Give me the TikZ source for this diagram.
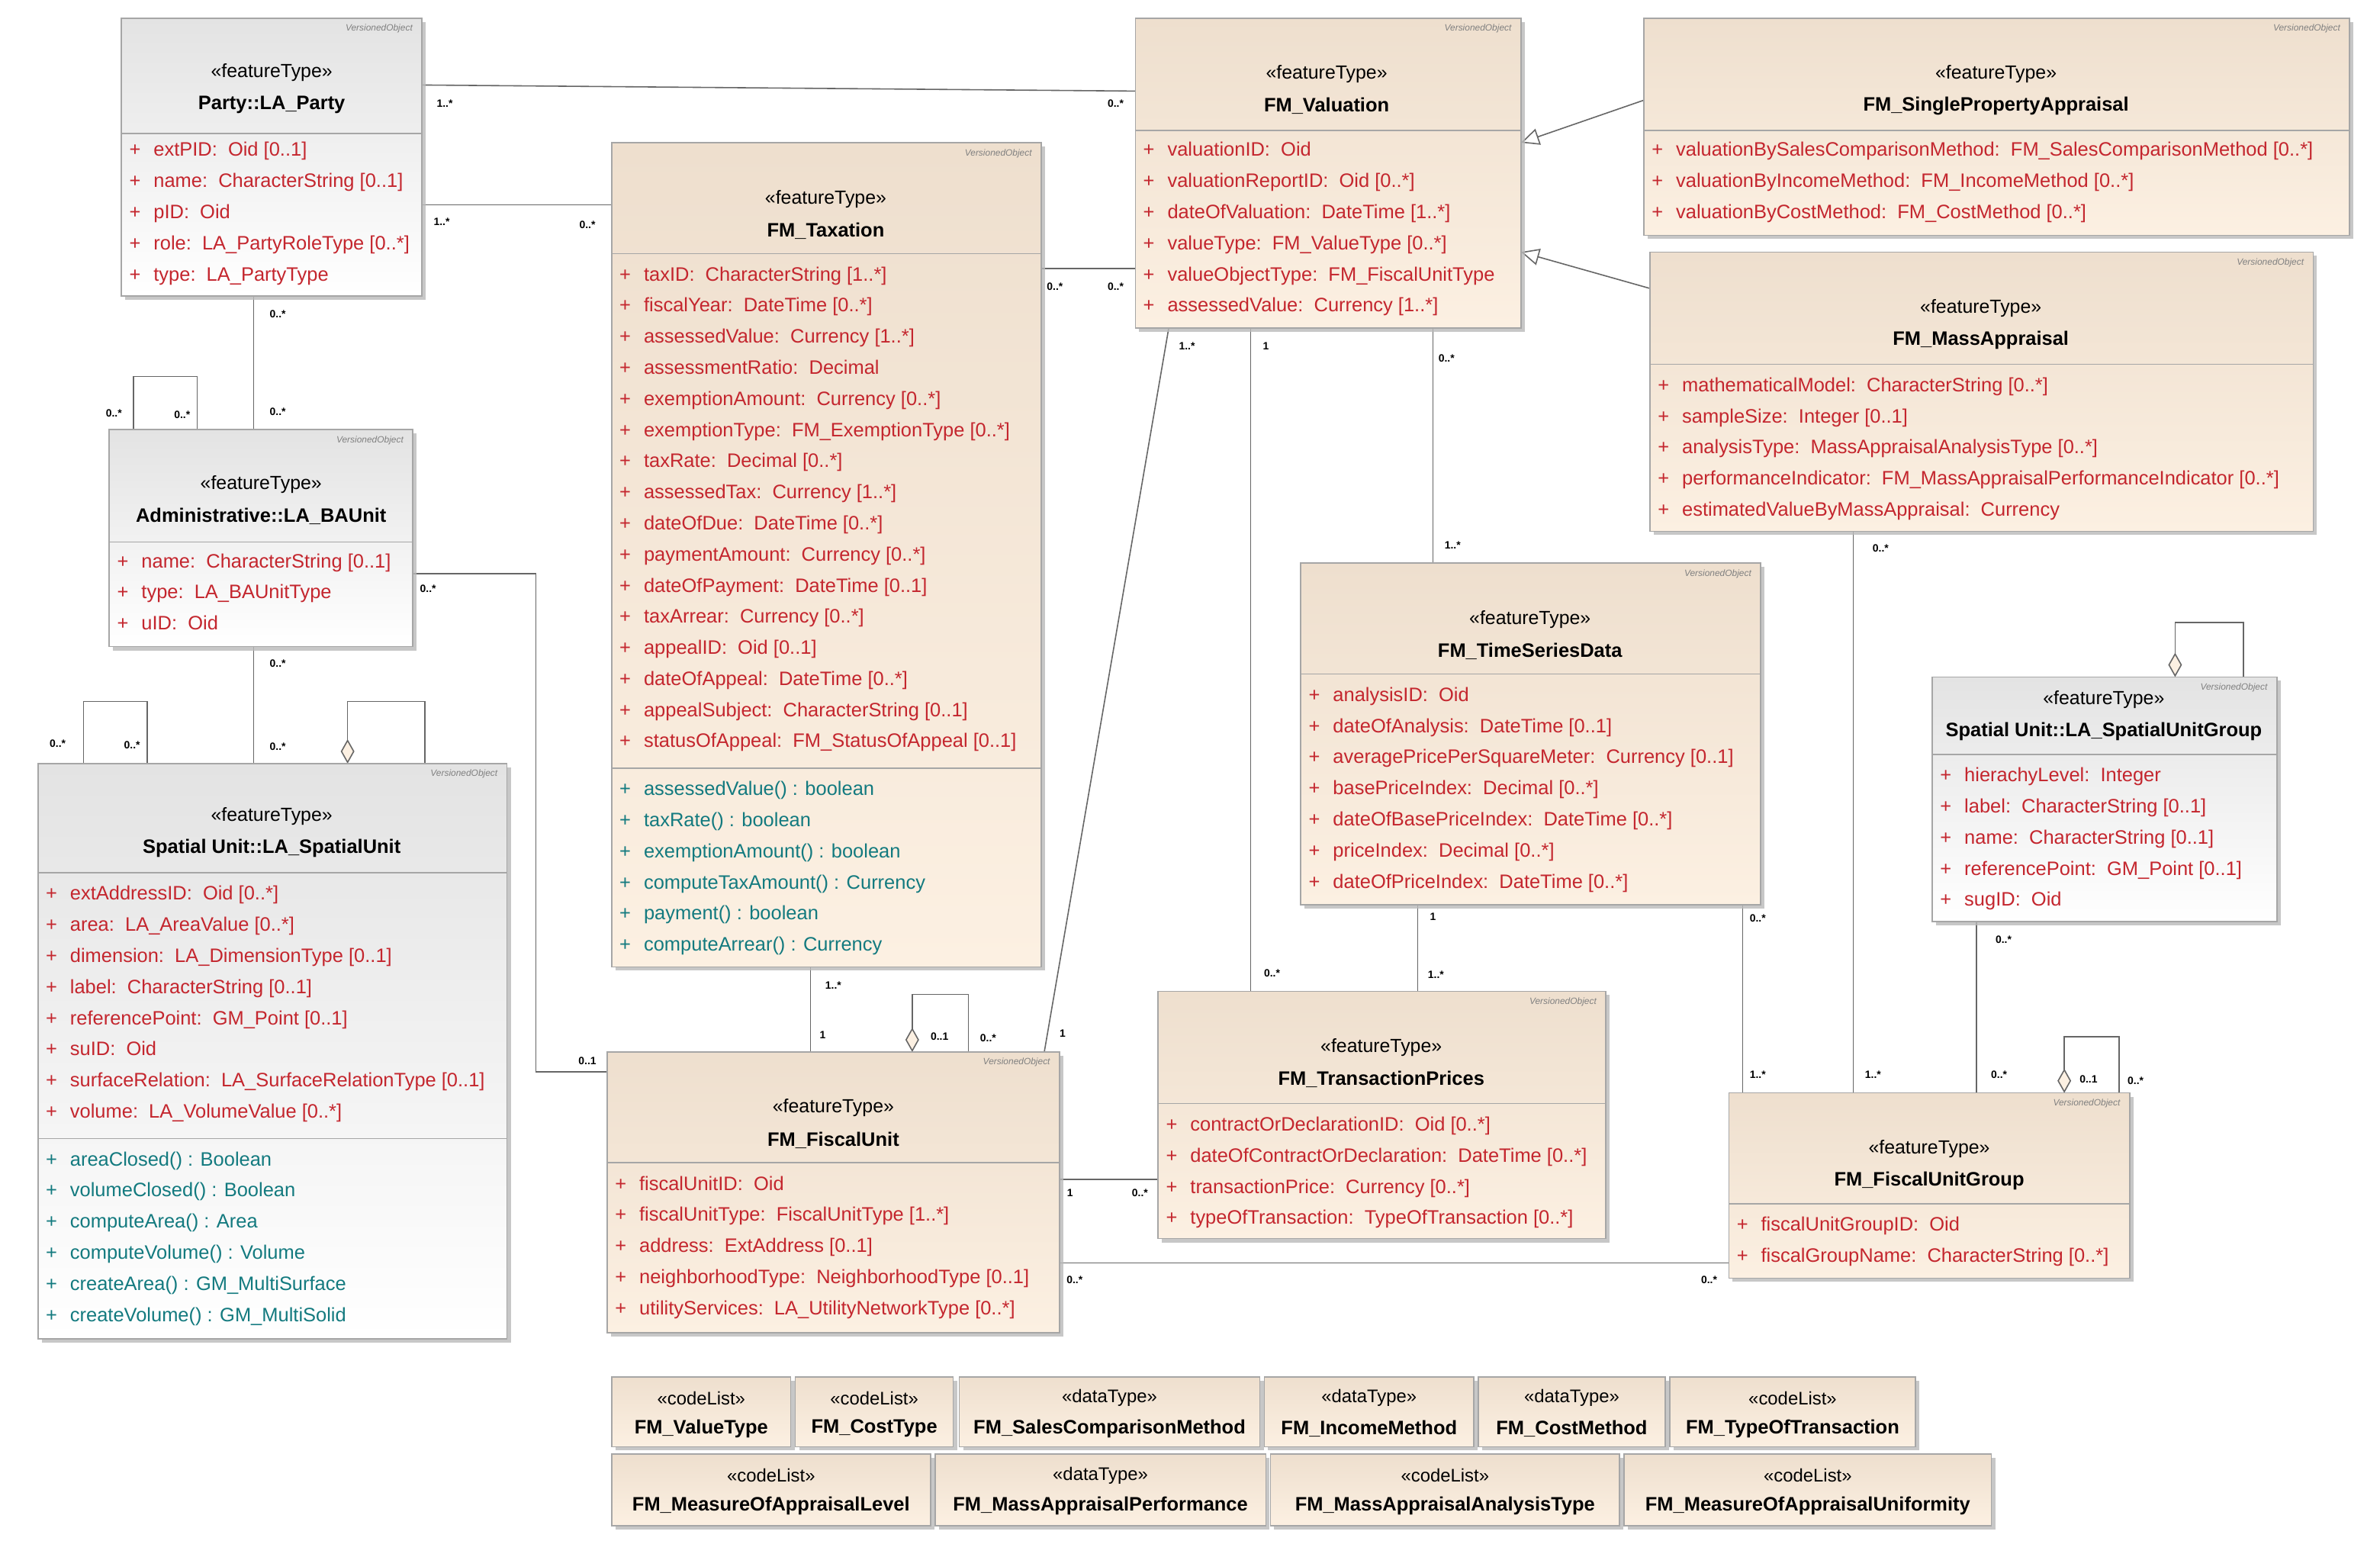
\documentclass[tikz,border=0pt]{standalone}
\usepackage{fontspec}
\setmainfont{Liberation Sans}
\usetikzlibrary{shadows,arrows.meta}
\definecolor{attr}{HTML}{C4262E}
\definecolor{opc}{HTML}{137A7F}
\definecolor{beigeT}{HTML}{EEDFCE}
\definecolor{beigeB}{HTML}{FCF0E2}
\tikzset{
  box/.style={draw=gray!70,line width=0.8pt,inner sep=0pt,drop shadow={shadow xshift=2.5pt,shadow yshift=-2.5pt,fill=gray!55,opacity=0.8}},
  fm/.style={box,top color=beigeT,bottom color=beigeB},
  la/.style={box,top color=gray!22,bottom color=white},
  ln/.style={draw=gray!80!black,line width=0.8pt},
  txt/.style={anchor=base west,inner sep=0pt,font=\fontsize{12.8}{14}\selectfont},
  mult/.style={anchor=center,inner sep=0pt,font=\fontsize{7}{8}\selectfont\bfseries},
  gen/.style={ln,-{Triangle[open,length=12pt,width=11pt,fill=white]}},
  agg/.style={ln,{Diamond[open,length=16pt,width=9pt,fill=beigeB]}-},
}
\newcommand\umlbox[8]{% name x1 y1 x2 y2 hdr style title
  \node[#7,minimum width={(#4-#2)*1pt},minimum height={(#5-#3)*1pt}] (#1) at ({(#2+#4)/2},{(#3+#5)/2}) {};
  \draw[draw=gray!70,line width=0.8pt] (#2,#6) -- (#4,#6);
  \node[anchor=north east,inner sep=0pt,font=\fontsize{6}{7}\itshape,text=gray] at ({#4-6},{#3+4}) {VersionedObject};
  #8}
\newcommand\ttl[3]{% xc, y of stereotype, name
  \node[inner sep=0pt,font=\fontsize{12.5}{14}\selectfont] at (#1,#2) {«featureType»};
  \node[inner sep=0pt,font=\fontsize{12.8}{14}\selectfont\bfseries] at (#1,{#2+21}) {#3};}
\newcommand\attrs[4]{% x, first baseline, color, list
  \foreach \t [count=\i] in {#4} \node[txt,text=#3] at (#1,{#2+(\i-1)*20.5}) {\makebox[16pt][l]{+}\t};}
\newcommand\mlab[3]{\node[mult] at (#1,#2) {#3};}
\newcommand\tb[7]{\node[fm,minimum width={(#3-#2)*1pt},minimum height={(#5-#4)*1pt}] (#1) at ({(#2+#3)/2},{(#4+#5)/2}) {};
 \node[inner sep=0pt,font=\fontsize{12}{13}\selectfont] at ({(#2+#3)/2},{#4+14}) {«#6»};
 \node[inner sep=0pt,font=\fontsize{12.8}{14}\selectfont\bfseries] at ({(#2+#3)/2},{#4+34}) {#7};}
\begin{document}
\begin{tikzpicture}[x=1pt,y=-1pt]
\useasboundingbox[fill=white] (0,0) rectangle (1568,1015);

% ---- connectors (behind)
\draw[ln] (278,56) -- (748,60); \mlab{293}{68}{1..*}\mlab{735}{68}{0..*}
\draw[ln] (278,135) -- (403,135); \mlab{291}{146}{1..*}\mlab{387}{148}{0..*}
\draw[ln] (167,195) -- (167,283); \mlab{183}{207}{0..*}\mlab{183}{271}{0..*}
\draw[ln] (88,283) |- (130,248) -- (130,283); \mlab{75}{272}{0..*}\mlab{120}{273}{0..*}
\draw[ln] (167,426) -- (167,503); \mlab{183}{437}{0..*}\mlab{183}{492}{0..*}
\draw[ln] (55,503) |- (97,462) -- (97,503); \mlab{38}{490}{0..*}\mlab{87}{491}{0..*}
\draw[agg] (229,503) |- (280,462) -- (280,503);
\draw[ln] (272,378) -| (353,706) -- (400,706); \mlab{282}{388}{0..*}\mlab{387}{699}{0..1}
\draw[ln] (686,177) -- (748,177); \mlab{695}{189}{0..*}\mlab{735}{189}{0..*}
\draw[ln] (534,637) -- (534,693); \mlab{549}{649}{1..*}\mlab{542}{682}{1}
\draw[agg] (601,693) |- (638,655) -- (638,693); \mlab{619}{683}{0..1}\mlab{651}{684}{0..*}
\draw[ln] (688,693) -- (770,216); \mlab{700}{681}{1}\mlab{782}{228}{1..*}
\draw[ln] (824,216) -- (824,653); \mlab{834}{228}{1}\mlab{838}{641}{0..*}
\draw[ln] (944,216) -- (944,371); \mlab{953}{236}{0..*}\mlab{957}{359}{1..*}
\draw[ln] (934,596) -- (934,653); \mlab{944}{604}{1}\mlab{946}{642}{1..*}
\draw[gen] (1083,66) -- (1002,94);
\draw[gen] (1087,190) -- (1002,166);
\draw[ln] (1221,350) -- (1221,720); \mlab{1239}{361}{0..*}\mlab{1234}{708}{1..*}
\draw[ln] (1148,596) -- (1148,720); \mlab{1158}{605}{0..*}\mlab{1158}{708}{1..*}
\draw[agg] (1433,446) |- (1478,410) -- (1478,446);
\draw[ln] (1302,607) -- (1302,720); \mlab{1320}{619}{0..*}\mlab{1317}{708}{0..*}
\draw[agg] (1360,720) |- (1396,683) -- (1396,720); \mlab{1376}{711}{0..1}\mlab{1407}{712}{0..*}
\draw[ln] (698,777) -- (763,777); \mlab{705}{786}{1}\mlab{751}{786}{0..*}
\draw[ln] (698,832) -- (1139,832); \mlab{708}{843}{0..*}\mlab{1126}{843}{0..*}

% ---- boxes
\umlbox{party}{80}{12}{278}{195}{88}{la}{\ttl{179}{48}{Party::LA\_Party}
 \attrs{85}{103}{attr}{{extPID:\ \ Oid [0..1]},{name:\ \ CharacterString [0..1]},{pID:\ \ Oid},{role:\ \ LA\_PartyRoleType [0..*]},{type:\ \ LA\_PartyType}}}
\umlbox{ba}{72}{283}{272}{426}{357}{la}{\ttl{172}{319}{Administrative::LA\_BAUnit}
 \attrs{77}{374}{attr}{{name:\ \ CharacterString [0..1]},{type:\ \ LA\_BAUnitType},{uID:\ \ Oid}}}
\umlbox{su}{25}{503}{334}{882}{575}{la}{\ttl{179}{538}{Spatial Unit::LA\_SpatialUnit}
 \attrs{30}{593}{attr}{{extAddressID:\ \ Oid [0..*]},{area:\ \ LA\_AreaValue [0..*]},{dimension:\ \ LA\_DimensionType [0..1]},{label:\ \ CharacterString [0..1]},{referencePoint:\ \ GM\_Point [0..1]},{suID:\ \ Oid},{surfaceRelation:\ \ LA\_SurfaceRelationType [0..1]},{volume:\ \ LA\_VolumeValue [0..*]}}
 \draw[draw=gray!70,line width=0.8pt] (25,750) -- (334,750);
 \attrs{30}{768}{opc}{{areaClosed() : Boolean},{volumeClosed() : Boolean},{computeArea() : Area},{computeVolume() : Volume},{createArea() : GM\_MultiSurface},{createVolume() : GM\_MultiSolid}}}
\umlbox{tax}{403}{94}{686}{637}{167}{fm}{\ttl{544}{131}{FM\_Taxation}
 \attrs{408}{185}{attr}{{taxID:\ \ CharacterString [1..*]},{fiscalYear:\ \ DateTime [0..*]},{assessedValue:\ \ Currency [1..*]},{assessmentRatio:\ \ Decimal},{exemptionAmount:\ \ Currency [0..*]},{exemptionType:\ \ FM\_ExemptionType [0..*]},{taxRate:\ \ Decimal [0..*]},{assessedTax:\ \ Currency [1..*]},{dateOfDue:\ \ DateTime [0..*]},{paymentAmount:\ \ Currency [0..*]},{dateOfPayment:\ \ DateTime [0..1]},{taxArrear:\ \ Currency [0..*]},{appealID:\ \ Oid [0..1]},{dateOfAppeal:\ \ DateTime [0..*]},{appealSubject:\ \ CharacterString [0..1]},{statusOfAppeal:\ \ FM\_StatusOfAppeal [0..1]}}
 \draw[draw=gray!70,line width=0.8pt] (403,506) -- (686,506);
 \attrs{408}{524}{opc}{{assessedValue() : boolean},{taxRate() : boolean},{exemptionAmount() : boolean},{computeTaxAmount() : Currency},{payment() : boolean},{computeArrear() : Currency}}}
\umlbox{val}{748}{12}{1002}{216}{86}{fm}{\ttl{874}{49}{FM\_Valuation}
 \attrs{753}{103}{attr}{{valuationID:\ \ Oid},{valuationReportID:\ \ Oid [0..*]},{dateOfValuation:\ \ DateTime [1..*]},{valueType:\ \ FM\_ValueType [0..*]},{valueObjectType:\ \ FM\_FiscalUnitType},{assessedValue:\ \ Currency [1..*]}}}
\umlbox{spa}{1083}{12}{1548}{155}{86}{fm}{\ttl{1315}{49}{FM\_SinglePropertyAppraisal}
 \attrs{1088}{103}{attr}{{valuationBySalesComparisonMethod:\ \ FM\_SalesComparisonMethod [0..*]},{valuationByIncomeMethod:\ \ FM\_IncomeMethod [0..*]},{valuationByCostMethod:\ \ FM\_CostMethod [0..*]}}}
\umlbox{mass}{1087}{166}{1524}{350}{240}{fm}{\ttl{1305}{203}{FM\_MassAppraisal}
 \attrs{1092}{258}{attr}{{mathematicalModel:\ \ CharacterString [0..*]},{sampleSize:\ \ Integer [0..1]},{analysisType:\ \ MassAppraisalAnalysisType [0..*]},{performanceIndicator:\ \ FM\_MassAppraisalPerformanceIndicator [0..*]},{estimatedValueByMassAppraisal:\ \ Currency}}}
\umlbox{ts}{857}{371}{1160}{596}{444}{fm}{\ttl{1008}{408}{FM\_TimeSeriesData}
 \attrs{862}{462}{attr}{{analysisID:\ \ Oid},{dateOfAnalysis:\ \ DateTime [0..1]},{averagePricePerSquareMeter:\ \ Currency [0..1]},{basePriceIndex:\ \ Decimal [0..*]},{dateOfBasePriceIndex:\ \ DateTime [0..*]},{priceIndex:\ \ Decimal [0..*]},{dateOfPriceIndex:\ \ DateTime [0..*]}}}
\umlbox{sug}{1273}{446}{1500}{607}{497}{la}{\ttl{1386}{461}{Spatial Unit::LA\_SpatialUnitGroup}
 \attrs{1278}{515}{attr}{{hierachyLevel:\ \ Integer},{label:\ \ CharacterString [0..1]},{name:\ \ CharacterString [0..1]},{referencePoint:\ \ GM\_Point [0..1]},{sugID:\ \ Oid}}}
\umlbox{fu}{400}{693}{698}{878}{766}{fm}{\ttl{549}{730}{FM\_FiscalUnit}
 \attrs{405}{784}{attr}{{fiscalUnitID:\ \ Oid},{fiscalUnitType:\ \ FiscalUnitType [1..*]},{address:\ \ ExtAddress [0..1]},{neighborhoodType:\ \ NeighborhoodType [0..1]},{utilityServices:\ \ LA\_UtilityNetworkType [0..*]}}}
\umlbox{tp}{763}{653}{1058}{816}{727}{fm}{\ttl{910}{690}{FM\_TransactionPrices}
 \attrs{768}{745}{attr}{{contractOrDeclarationID:\ \ Oid [0..*]},{dateOfContractOrDeclaration:\ \ DateTime [0..*]},{transactionPrice:\ \ Currency [0..*]},{typeOfTransaction:\ \ TypeOfTransaction [0..*]}}}
\umlbox{fug}{1139}{720}{1403}{842}{793}{fm}{\ttl{1271}{757}{FM\_FiscalUnitGroup}
 \attrs{1144}{811}{attr}{{fiscalUnitGroupID:\ \ Oid},{fiscalGroupName:\ \ CharacterString [0..*]}}}

% ---- bottom type boxes
\tb{b1}{403}{521}{907}{953}{codeList}{FM\_ValueType}
\tb{b2}{524}{628}{907}{953}{codeList}{FM\_CostType}
\tb{b3}{632}{830}{907}{953}{dataType}{FM\_SalesComparisonMethod}
\tb{b4}{833}{971}{907}{953}{dataType}{FM\_IncomeMethod}
\tb{b5}{974}{1097}{907}{953}{dataType}{FM\_CostMethod}
\tb{b6}{1100}{1262}{907}{953}{codeList}{FM\_TypeOfTransaction}
\tb{c1}{403}{613}{958}{1005}{codeList}{FM\_MeasureOfAppraisalLevel}
\tb{c2}{616}{834}{958}{1005}{dataType}{FM\_MassAppraisalPerformance}
\tb{c3}{837}{1067}{958}{1005}{codeList}{FM\_MassAppraisalAnalysisType}
\tb{c4}{1070}{1312}{958}{1005}{codeList}{FM\_MeasureOfAppraisalUniformity}
\end{tikzpicture}
\end{document}
